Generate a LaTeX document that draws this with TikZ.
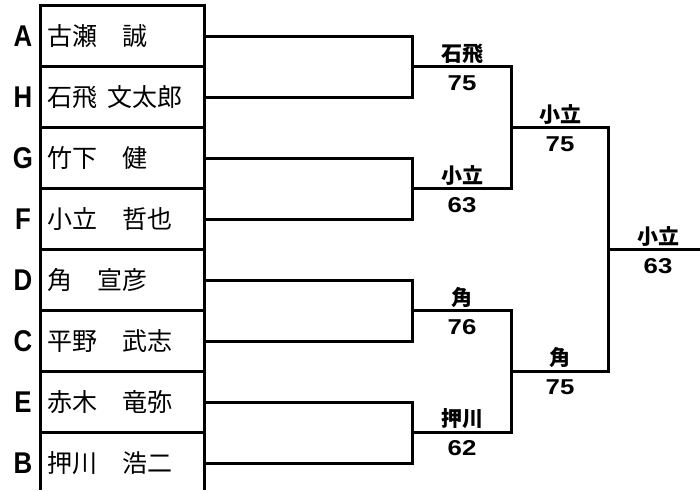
\documentclass[tikz,border=0pt]{standalone}
\usepackage{fontspec}
\setmainfont{Liberation Sans}
\newfontfamily\jp{Noto Sans CJK JP}
\begin{document}
\begin{tikzpicture}[x=1pt,y=-1pt,line width=3pt,
  pname/.style={anchor=west,inner sep=0pt,font=\jp\fontsize{25}{25}\selectfont},
  pletter/.style={inner sep=0pt,xscale=0.86,font=\bfseries\fontsize{30}{30}\selectfont},
  wname/.style={anchor=base,inner sep=0pt,font=\jp\bfseries\fontsize{21}{21}\selectfont},
  wscore/.style={anchor=base,inner sep=0pt,xscale=1.2,font=\bfseries\fontsize{21.5}{21.5}\selectfont}]
\useasboundingbox (0,0) rectangle (700,490);
% frame of the name column
\draw (40,490) -- (40,5) -- (204,5) -- (204,490);
\foreach \k in {1,...,7}{\draw (40,{5+61*\k}) -- (204,{5+61*\k});}
% letters and names
\foreach \i/\l/\n in {0/A/古瀬　誠,1/H/石飛 \kern4pt文太郎,2/G/竹下　健,3/F/小立　哲也,4/D/角　宣彦,5/C/平野　武志,6/E/赤木　竜弥,7/B/押川　浩二}{
  \node[pletter] (l\i) at (23,{36.5+61*\i}) {\l};
  \node[pname] (p\i) at (46,{36+61*\i}) {\n};
  \coordinate (s\i) at (204,{36+61*\i});
}
% match points
\coordinate (m1) at (412,66.5);
\coordinate (m2) at (412,188.5);
\coordinate (m3) at (412,310.5);
\coordinate (m4) at (412,432);
\coordinate (m5) at (511,127.5);
\coordinate (m6) at (511,371);
\coordinate (m7) at (608,249.5);
\coordinate (out) at (700,249.5);
\draw (s0) -| (m1) |- (s1);
\draw (s2) -| (m2) |- (s3);
\draw (s4) -| (m3) |- (s5);
\draw (s6) -| (m4) |- (s7);
\draw (m1) -| (m5) |- (m2);
\draw (m3) -| (m6) |- (m4);
\draw (m5) -| (m7) |- (m6);
\draw (m7) -- (out);
% winners and scores
\node[wname] (w1) at (462,61) {石飛};
\node[wscore] (c1) at (462,90) {75};
\node[wname] (w2) at (462,183) {小立};
\node[wscore] (c2) at (462,212) {63};
\node[wname] (w3) at (462,305) {角};
\node[wscore] (c3) at (462,334) {76};
\node[wname] (w4) at (462,426.5) {押川};
\node[wscore] (c4) at (462,455.5) {62};
\node[wname] (w5) at (560,122) {小立};
\node[wscore] (c5) at (560,151) {75};
\node[wname] (w6) at (560,365.5) {角};
\node[wscore] (c6) at (560,394.5) {75};
\node[wname] (w7) at (658,244) {小立};
\node[wscore] (c7) at (658,273) {63};
\end{tikzpicture}
\end{document}
